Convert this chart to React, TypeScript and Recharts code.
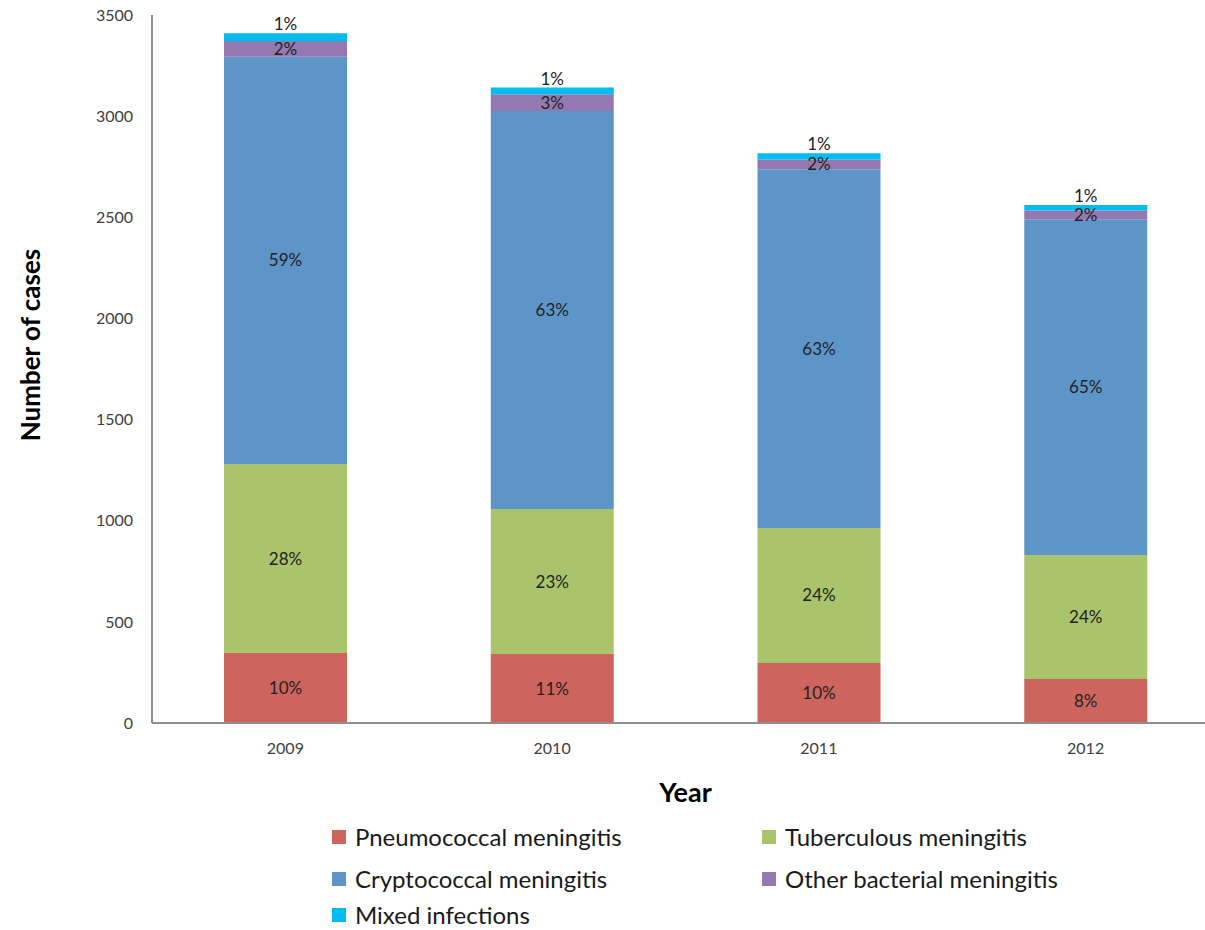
import React from 'react';
import { BarChart, Bar, XAxis, YAxis, Legend, LabelList } from 'recharts';

const years = ['2009', '2010', '2011', '2012'];
const pneumococcal = [346, 341, 297, 217];
const tuberculous = [934, 717, 667, 613];
const cryptococcal = [2014, 1967, 1774, 1660];
const otherBacterial = [78, 83, 48, 43];
const mixedInfections = [38, 33, 30, 28];

const pneumococcalPct = ['10%', '11%', '10%', '8%'];
const tuberculousPct = ['28%', '23%', '24%', '24%'];
const cryptococcalPct = ['59%', '63%', '63%', '65%'];
const otherBacterialPct = ['2%', '3%', '2%', '2%'];
const mixedPct = ['1%', '1%', '1%', '1%'];

const yTicks = [0, 500, 1000, 1500, 2000, 2500, 3000, 3500];

const FONT = 'Lato, "Open Sans", sans-serif';
const AXIS_COLOR = '#8e8e8e';

const series = [
  { key: 'pneumococcal', label: 'pneumococcalPct', name: 'Pneumococcal meningitis', color: '#cd655e' },
  { key: 'tuberculous', label: 'tuberculousPct', name: 'Tuberculous meningitis', color: '#a9c46b' },
  { key: 'cryptococcal', label: 'cryptococcalPct', name: 'Cryptococcal meningitis', color: '#5e95c8' },
  { key: 'otherBacterial', label: 'otherBacterialPct', name: 'Other bacterial meningitis', color: '#9479b0' },
  { key: 'mixed', label: 'mixedPct', name: 'Mixed infections', color: '#00bcf0' },
];

const data = years.map((year, i) => ({
  year,
  pneumococcal: pneumococcal[i],
  tuberculous: tuberculous[i],
  cryptococcal: cryptococcal[i],
  otherBacterial: otherBacterial[i],
  mixed: mixedInfections[i],
  pneumococcalPct: pneumococcalPct[i],
  tuberculousPct: tuberculousPct[i],
  cryptococcalPct: cryptococcalPct[i],
  otherBacterialPct: otherBacterialPct[i],
  mixedPct: mixedPct[i],
}));

// legend laid out in two columns like the original
const legendSlots = [
  { x: 332, y: 837 },
  { x: 762, y: 837 },
  { x: 332, y: 879 },
  { x: 762, y: 879 },
  { x: 332, y: 915 },
];

const LEGEND_TOP = 812;

const ChartLegend = () => (
  <div style={{ position: 'relative', width: 1205, height: 118, fontFamily: FONT }}>
    {series.map((s, i) => {
      const slot = legendSlots[i];
      return (
        <div
          key={s.key}
          style={{
            position: 'absolute',
            left: slot.x,
            top: slot.y - LEGEND_TOP - 13,
            height: 26,
            lineHeight: '26px',
            display: 'flex',
            alignItems: 'center',
            whiteSpace: 'nowrap',
          }}
        >
          <span style={{ width: 14, height: 14, background: s.color, display: 'inline-block', marginRight: 9 }} />
          <span style={{ fontSize: 24, color: '#1a1a1a' }}>{s.name}</span>
        </div>
      );
    })}
  </div>
);

const YTitle = () => (
  <text
    x={30}
    y={345}
    transform="rotate(-90, 30, 345)"
    textAnchor="middle"
    dominantBaseline="central"
    fontFamily={FONT}
    fontWeight={700}
    fontSize={26}
    fill="#000"
  >
    Number of cases
  </text>
);

export default function App() {
  return (
    <div style={{ position: 'absolute', left: 0, top: 0, width: 1205, height: 930, overflow: 'hidden', background: '#fff' }}>
      <BarChart
        width={1205}
        height={930}
        data={data}
        margin={{ top: 15, right: -14, left: 0, bottom: 147 }}
        barSize={123}
      >
        <XAxis
          dataKey="year"
          height={60}
          tickLine={false}
          axisLine={{ stroke: AXIS_COLOR, strokeWidth: 2 }}
          tick={{ fill: '#404040', fontSize: 16, fontFamily: FONT }}
          tickMargin={14}
          label={{
            value: 'Year',
            position: 'bottom',
            offset: 0,
            style: { fontFamily: FONT, fontWeight: 700, fontSize: 27, fill: '#000' },
          }}
        />
        <YAxis
          width={152}
          domain={[0, 3500]}
          ticks={yTicks}
          interval={0}
          tickLine={false}
          axisLine={{ stroke: AXIS_COLOR, strokeWidth: 2 }}
          tick={{ fill: '#404040', fontSize: 16, fontFamily: FONT }}
          tickMargin={13}
          label={<YTitle />}
        />
        <Legend
          layout="horizontal"
          verticalAlign="middle"
          align="center"
          wrapperStyle={{ top: LEGEND_TOP, left: 0, width: 1205 }}
          content={() => <ChartLegend />}
        />
        {series.map((s) => (
          <Bar
            key={s.key}
            dataKey={s.key}
            name={s.name}
            stackId="cases"
            fill={s.color}
            isAnimationActive={false}
          >
            <LabelList
              dataKey={s.label}
              position={s.key === 'mixed' ? 'top' : 'center'}
              offset={s.key === 'mixed' ? 3 : 0}
              style={{ fontFamily: FONT, fontSize: 17, fill: '#222' }}
            />
          </Bar>
        ))}
      </BarChart>
    </div>
  );
}
